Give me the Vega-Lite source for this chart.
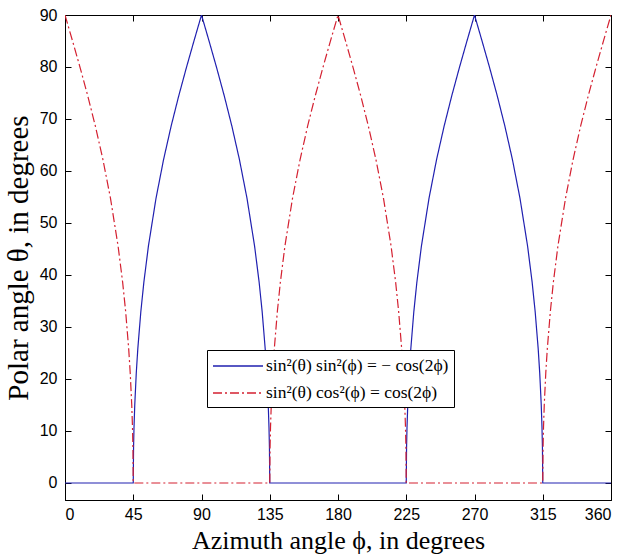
{
  "$schema": "https://vega.github.io/schema/vega-lite/v6.json",
  "width": 546,
  "height": 485,
  "autosize": "none",
  "padding": {"left": 65, "top": 15, "right": 13, "bottom": 58},
  "background": "white",
  "config": {
    "view": {"stroke": "black", "strokeWidth": 1},
    "axis": {"domainColor": "black", "tickColor": "black", "labelColor": "black", "titleColor": "black", "grid": false, "labelFont": "Liberation Sans Narrow, Liberation Sans", "labelFontSize": 16, "titleFont": "Liberation Serif", "titleFontWeight": "normal", "tickSize": -6, "tickWidth": 1, "domainWidth": 1}
  },
  "data": {"values": [
    {"s":"A","x":0,"y":0},{"s":"A","x":45,"y":0},{"s":"A","x":45.2,"y":6.76},{"s":"A","x":45.5,"y":10.67},{"s":"A","x":46,"y":15.05},{"s":"A","x":47,"y":21.17},{"s":"A","x":48,"y":25.79},{"s":"A","x":50,"y":32.95},{"s":"A","x":52,"y":38.62},{"s":"A","x":55,"y":45.56},{"s":"A","x":60,"y":54.74},{"s":"A","x":65,"y":62.21},{"s":"A","x":70,"y":68.66},{"s":"A","x":75,"y":74.46},{"s":"A","x":80,"y":79.84},{"s":"A","x":85,"y":84.98},{"s":"A","x":90,"y":90},{"s":"A","x":95,"y":84.98},{"s":"A","x":100,"y":79.84},{"s":"A","x":105,"y":74.46},{"s":"A","x":110,"y":68.66},{"s":"A","x":115,"y":62.21},{"s":"A","x":120,"y":54.74},{"s":"A","x":125,"y":45.56},{"s":"A","x":128,"y":38.62},{"s":"A","x":130,"y":32.95},{"s":"A","x":132,"y":25.79},{"s":"A","x":133,"y":21.17},{"s":"A","x":134,"y":15.05},{"s":"A","x":134.5,"y":10.67},{"s":"A","x":134.8,"y":6.76},{"s":"A","x":135,"y":0},{"s":"A","x":225,"y":0},{"s":"A","x":225.2,"y":6.76},{"s":"A","x":225.5,"y":10.67},{"s":"A","x":226,"y":15.05},{"s":"A","x":227,"y":21.17},{"s":"A","x":228,"y":25.79},{"s":"A","x":230,"y":32.95},{"s":"A","x":232,"y":38.62},{"s":"A","x":235,"y":45.56},{"s":"A","x":240,"y":54.74},{"s":"A","x":245,"y":62.21},{"s":"A","x":250,"y":68.66},{"s":"A","x":255,"y":74.46},{"s":"A","x":260,"y":79.84},{"s":"A","x":265,"y":84.98},{"s":"A","x":270,"y":90},{"s":"A","x":275,"y":84.98},{"s":"A","x":280,"y":79.84},{"s":"A","x":285,"y":74.46},{"s":"A","x":290,"y":68.66},{"s":"A","x":295,"y":62.21},{"s":"A","x":300,"y":54.74},{"s":"A","x":305,"y":45.56},{"s":"A","x":308,"y":38.62},{"s":"A","x":310,"y":32.95},{"s":"A","x":312,"y":25.79},{"s":"A","x":313,"y":21.17},{"s":"A","x":314,"y":15.05},{"s":"A","x":314.5,"y":10.67},{"s":"A","x":314.8,"y":6.76},{"s":"A","x":315,"y":0},{"s":"A","x":360,"y":0},
    {"s":"B","x":0,"y":90},{"s":"B","x":5,"y":84.98},{"s":"B","x":10,"y":79.84},{"s":"B","x":15,"y":74.46},{"s":"B","x":20,"y":68.66},{"s":"B","x":25,"y":62.21},{"s":"B","x":30,"y":54.74},{"s":"B","x":35,"y":45.56},{"s":"B","x":38,"y":38.62},{"s":"B","x":40,"y":32.95},{"s":"B","x":42,"y":25.79},{"s":"B","x":43,"y":21.17},{"s":"B","x":44,"y":15.05},{"s":"B","x":44.5,"y":10.67},{"s":"B","x":44.8,"y":6.76},{"s":"B","x":45,"y":0},{"s":"B","x":135,"y":0},{"s":"B","x":135.2,"y":6.76},{"s":"B","x":135.5,"y":10.67},{"s":"B","x":136,"y":15.05},{"s":"B","x":137,"y":21.17},{"s":"B","x":138,"y":25.79},{"s":"B","x":140,"y":32.95},{"s":"B","x":142,"y":38.62},{"s":"B","x":145,"y":45.56},{"s":"B","x":150,"y":54.74},{"s":"B","x":155,"y":62.21},{"s":"B","x":160,"y":68.66},{"s":"B","x":165,"y":74.46},{"s":"B","x":170,"y":79.84},{"s":"B","x":175,"y":84.98},{"s":"B","x":180,"y":90},{"s":"B","x":185,"y":84.98},{"s":"B","x":190,"y":79.84},{"s":"B","x":195,"y":74.46},{"s":"B","x":200,"y":68.66},{"s":"B","x":205,"y":62.21},{"s":"B","x":210,"y":54.74},{"s":"B","x":215,"y":45.56},{"s":"B","x":218,"y":38.62},{"s":"B","x":220,"y":32.95},{"s":"B","x":222,"y":25.79},{"s":"B","x":223,"y":21.17},{"s":"B","x":224,"y":15.05},{"s":"B","x":224.5,"y":10.67},{"s":"B","x":224.8,"y":6.76},{"s":"B","x":225,"y":0},{"s":"B","x":315,"y":0},{"s":"B","x":315.2,"y":6.76},{"s":"B","x":315.5,"y":10.67},{"s":"B","x":316,"y":15.05},{"s":"B","x":317,"y":21.17},{"s":"B","x":318,"y":25.79},{"s":"B","x":320,"y":32.95},{"s":"B","x":322,"y":38.62},{"s":"B","x":325,"y":45.56},{"s":"B","x":330,"y":54.74},{"s":"B","x":335,"y":62.21},{"s":"B","x":340,"y":68.66},{"s":"B","x":345,"y":74.46},{"s":"B","x":350,"y":79.84},{"s":"B","x":355,"y":84.98},{"s":"B","x":360,"y":90}
  ]},
  "layer": [
    {
      "mark": {"type": "line", "strokeWidth": 1.2, "clip": true},
      "encoding": {
        "x": {"field": "x", "type": "quantitative", "scale": {"domain": [0, 360], "nice": false, "zero": false},
              "axis": {"orient": "bottom", "values": [0,45,90,135,180,225,270,315,360], "title": "Azimuth angle ϕ, in degrees", "titleFontSize": 26, "labelPadding": 12, "titlePadding": 5}},
        "y": {"field": "y", "type": "quantitative", "scale": {"domain": [-3.27, 90], "nice": false, "zero": false},
              "axis": {"orient": "left", "values": [0,10,20,30,40,50,60,70,80,90], "title": "Polar angle θ, in degrees", "titleFontSize": 29, "labelPadding": 14, "titlePadding": 6}},
        "color": {"field": "s", "type": "nominal", "scale": {"domain": ["A", "B"], "range": ["#2020b0", "#d42030"]},
                  "legend": {"orient": "none", "legendX": 142, "legendY": 335, "title": null, "symbolType": "M-2.5,0H2.5", "symbolSize": 400, "symbolOffset": 15, "labelOffset": 17, "symbolStrokeWidth": 1.4, "labelFont": "Liberation Serif", "labelFontSize": 17.5, "labelLimit": 400, "labelColor": "black", "strokeColor": "black", "fillColor": "white", "padding": 5, "rowPadding": 7, "labelExpr": "datum.value == 'A' ? 'sin²(θ) sin²(ϕ) = − cos(2ϕ)' : 'sin²(θ) cos²(ϕ) = cos(2ϕ)'"}},
        "strokeDash": {"field": "s", "type": "nominal", "scale": {"domain": ["A", "B"], "range": [[1, 0], [9, 3, 2, 3]]}, "legend": null}
      }
    },
    {
      "mark": {"type": "line", "opacity": 0},
      "encoding": {
        "x": {"field": "x", "type": "quantitative", "axis": {"orient": "top", "values": [0,45,90,135,180,225,270,315,360], "labels": false, "title": null, "domain": false}},
        "y": {"field": "y", "type": "quantitative", "axis": {"orient": "right", "values": [0,10,20,30,40,50,60,70,80,90], "labels": false, "title": null, "domain": false}}
      }
    }
  ],
  "resolve": {"axis": {"x": "independent", "y": "independent"}}
}
